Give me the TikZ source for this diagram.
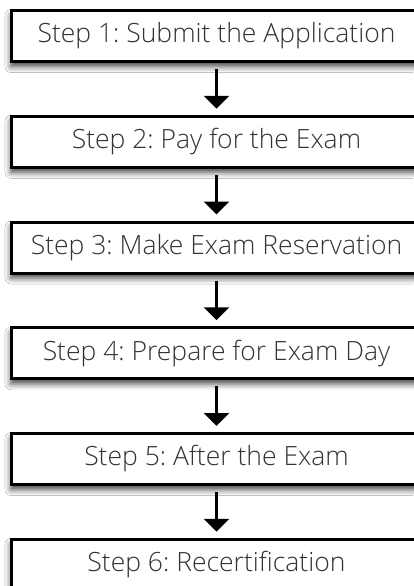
\documentclass[tikz,border=0pt]{standalone}
\usepackage{fontspec}
\setmainfont{Open Sans Light}
\usetikzlibrary{arrows.meta,shadows.blur}
\definecolor{txt}{HTML}{333333}
\begin{document}
\frenchspacing
\begin{tikzpicture}[x=1pt,y=-1pt,
  stepbox/.style={draw=black, fill=white, line width=3pt, minimum width=411pt, minimum height=51pt,
    inner sep=0pt, text=txt, font=\fontsize{26.5}{30}\selectfont,
    blur shadow={shadow xshift=0pt, shadow yshift=-5pt, shadow blur radius=6pt, shadow opacity=75}},
  flow/.style={line width=3pt, -{Triangle[width=25pt,length=13pt]}, shorten <=6pt, shorten >=6pt}]
\useasboundingbox (0,0) rectangle (413,586);
\fill[white] (0,0) rectangle (413,586);
\node[stepbox] (s1) at (216.5,36) {\frenchspacing Step 1: Submit the Application};
\node[stepbox] (s2) at (216.5,141.75) {\frenchspacing Step 2: Pay for the Exam};
\node[stepbox] (s3) at (216.5,247.5) {\frenchspacing Step 3: Make Exam Reservation};
\node[stepbox] (s4) at (216.5,353.25) {\frenchspacing Step 4: Prepare for Exam Day};
\node[stepbox] (s5) at (216.5,459) {\frenchspacing Step 5: After the Exam};
\node[stepbox] (s6) at (216.5,564.75) {\frenchspacing Step 6: Recertification};
\draw[flow] (s1.south) -- (s2.north);
\draw[flow] (s2.south) -- (s3.north);
\draw[flow] (s3.south) -- (s4.north);
\draw[flow] (s4.south) -- (s5.north);
\draw[flow] (s5.south) -- (s6.north);
\end{tikzpicture}
\end{document}
